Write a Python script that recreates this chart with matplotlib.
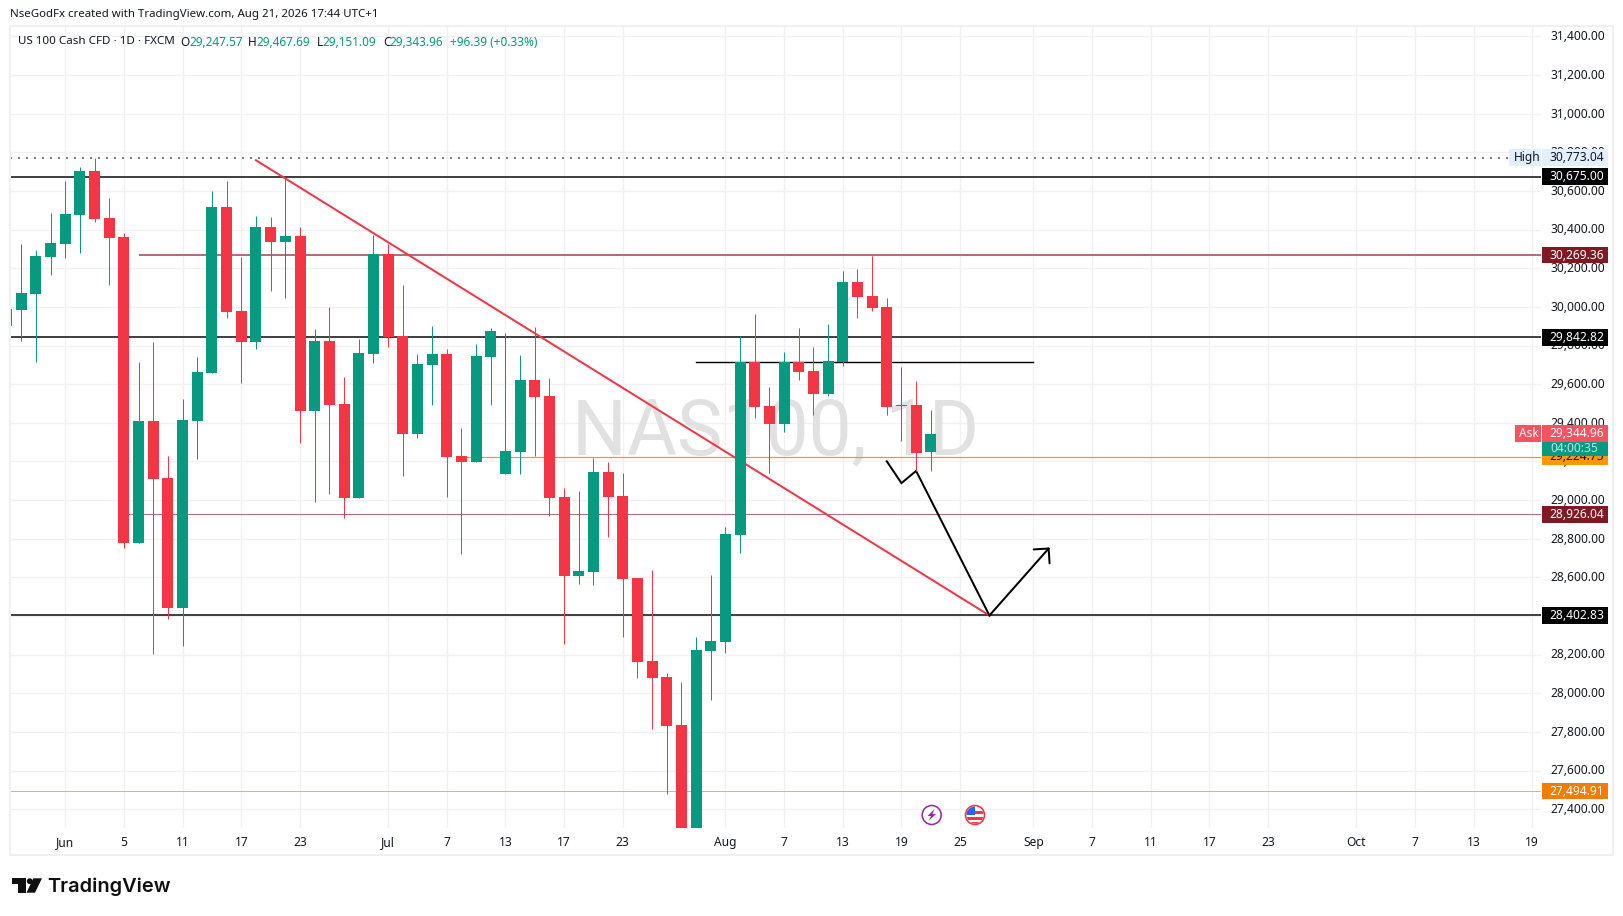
import matplotlib
matplotlib.use("Agg")
import matplotlib.pyplot as plt
import numpy as np
from matplotlib.patches import Circle, Polygon, Rectangle
from matplotlib.transforms import ScaledTranslation

plt.rcParams['font.family'] = ['Noto Sans', 'DejaVu Sans']

# daily bars, index 0 is the bar of 1 June
bar_index = np.arange(-4, 60)
opens = [29901, 29984, 30067, 30258, 30326, 30476, 30703, 30460, 30362, 28778, 29409, 29114, 28441, 29409, 29658, 30517,
         29979, 29818, 30414, 30336, 30367, 29461, 29823, 29497, 29011, 29756, 30274, 29849, 29342, 29699, 29756, 29228,
         29197, 29741, 29135, 29249, 29622, 29539, 29016, 28607, 28628, 29145, 29021, 28597, 28167, 28084, 27836, 27200,
         28219, 28265, 28819, 29715, 29487, 29394, 29715, 29668, 29549, 29715, 30129, 30056, 29999, 29488, 29492, 29247.57]
highs = [29989, 30325, 30294, 30486, 30652, 30724, 30773, 30564, 30382, 29715, 29818, 29228, 29523, 29741, 30600, 30652,
         30258, 30470, 30465, 30672, 30414, 29886, 29999, 29637, 29834, 30372, 30325, 30113, 29756, 29901, 29782, 29373,
         29808, 29891, 29865, 29751, 29896, 29632, 29063, 29047, 29218, 29197, 29140, 28597, 28638, 28105, 28058, 28291,
         28612, 28861, 29849, 29963, 29585, 29766, 29891, 29792, 29911, 30186, 30196, 30263, 30046, 29689, 29616, 29467.69]
lows = [29901, 29825, 29716, 30165, 30253, 30279, 30439, 30113, 28752, 28778, 28205, 28385, 28245, 29213, 29658, 29943,
        29606, 29782, 30082, 30046, 29296, 28990, 29032, 28907, 29011, 29710, 29792, 29125, 29321, 29492, 29016, 28723,
        29197, 29492, 29135, 29135, 29228, 28918, 28255, 28566, 28561, 28809, 28293, 28079, 27815, 27479, 27150, 27150,
        27965, 28209, 28726, 29425, 29140, 29352, 29622, 29440, 29539, 29694, 29942, 29979, 29440, 29306, 29151, 29151.09]
closes = [29989, 30072, 30263, 30331, 30481, 30703, 30455, 30357, 28778, 29409, 29109, 28441, 29415, 29663, 30517, 29974,
          29818, 30414, 30336, 30367, 29461, 29823, 29492, 29011, 29761, 30274, 29844, 29342, 29704, 29756, 29223, 29197,
          29746, 29875, 29254, 29622, 29534, 29011, 28607, 28633, 29145, 29016, 28592, 28162, 28079, 27831, 27200, 28224,
          28271, 28825, 29715, 29482, 29394, 29715, 29663, 29549, 29720, 30129, 30051, 29994, 29482, 29493, 29244, 29343.96]

price_ticks = [31400, 31200, 31000, 30800, 30600, 30400, 30200, 30000, 29800, 29600, 29400, 29200, 29000,
               28800, 28600, 28400, 28200, 28000, 27800, 27600, 27400]
date_pos = [0, 4, 8, 12, 16, 22, 26, 30, 34, 38, 45, 49, 53, 57, 61, 66, 70, 74, 78, 82, 88, 92, 96, 100]
date_labels = ['Jun', '5', '11', '17', '23', 'Jul', '7', '13', '17', '23', 'Aug', '7', '13', '19', '25',
               'Sep', '7', '11', '17', '23', 'Oct', '7', '13', '19']

# drawn lines: price, first bar
thick_levels = [30675.00, 29842.82, 28402.83]
red_top_level = 30269.36
red_low_level = 28926.04
orange_level = 29224.75
orange_low_level = 27494.91
high_price = 30773.04
ask_price = 29344.96
trend_x = [13, 63]
trend_y = [30759, 28402.83]
range_x = [43, 66]
range_y = [29713, 29713]
path_x = [56, 57, 58, 63]
path_y = [29201, 29088, 29151, 28402.83]
arrow_x = [63, 67.1]
arrow_y = [28402.83, 28755]

UP = '#089981'
DOWN = '#f23645'
TEXT = '#131722'
PX = 0.72  # points per pixel at dpi 100

W, H = 1623, 916
fig = plt.figure(figsize=(W / 100, H / 100), dpi=100, facecolor='white')
ax = fig.add_axes([10 / W, 1 - 828 / H, (1541 - 10) / W, (828 - 26) / H])
ax.set_xlim(-3.77, 100.6)
ax.set_ylim(27302.8, 31454)
for s in ax.spines.values():
    s.set_visible(False)
ax.set_axisbelow(True)
ax.grid(True, color='#f1f1f3', lw=1.4 * PX)
ax.yaxis.tick_right()
ax.set_yticks(price_ticks)
ax.set_yticklabels([f'{p:,.2f}' for p in price_ticks], fontsize=12 * PX, color=TEXT)
ax.set_xticks(date_pos)
ax.set_xticklabels(date_labels, fontsize=12 * PX, color=TEXT)
ax.tick_params(length=0)
ax.tick_params(axis='y', pad=9 * PX)
ax.tick_params(axis='x', pad=8 * PX)
nudge = ScaledTranslation(0, 1.2 / 100, fig.dpi_scale_trans)
for lab in ax.get_yticklabels():
    lab.set_transform(lab.get_transform() + nudge)

ax.text(0.5, (828 - 455) / 802, 'NAS100, 1D', transform=ax.transAxes, ha='center', va='baseline', fontsize=76.7 * PX,
        color='#e1e1e1', family='Roboto', zorder=0.6)

# horizontal levels sit under the candles
x_end = ax.get_xlim()[1]
for lvl in thick_levels:
    ax.hlines(lvl, -3.77, x_end, color='#434343', lw=2 * PX, zorder=1)
ax.hlines(red_top_level, 5, x_end, color='#b07078', lw=2 * PX, zorder=1)
ax.hlines(red_low_level, 4, x_end, color='#b86b72', lw=1 * PX, zorder=1)
ax.hlines(orange_level, 27, x_end, color='#ff9800', lw=1.2 * PX, zorder=1)
ax.hlines(orange_low_level, -3.77, x_end, color='#f2ad6b', lw=1 * PX, zorder=1)
ax.plot([-3.77, 98.36], [high_price, high_price], color='#808080', lw=2 * PX, ls=(0, (1, 3)),
        dash_capstyle='butt', zorder=1)

ax.plot(trend_x, trend_y, color=DOWN, lw=2 * PX, zorder=2)
ax.plot(range_x, range_y, color='black', lw=1.4 * PX, zorder=2)
ax.plot(path_x, path_y, color='black', lw=2 * PX, zorder=2, solid_joinstyle='miter')
ax.annotate('', xy=(arrow_x[1], arrow_y[1]), xytext=(arrow_x[0], arrow_y[0]), zorder=2,
            arrowprops=dict(arrowstyle='->,head_length=0.76,head_width=0.76', mutation_scale=10, lw=2 * PX,
                            color='black', shrinkA=0, shrinkB=0))

o = np.array(opens)
c = np.array(closes)
colors = [UP if b >= a else DOWN for a, b in zip(opens, closes)]
ax.vlines(bar_index, lows, highs, colors=colors, lw=1 * PX, zorder=3)
ax.bar(bar_index, np.abs(c - o), bottom=np.minimum(o, c), width=0.75, color=colors, linewidth=0, zorder=3)

# overlay in pixel coordinates for the frame, tags and header
ov = fig.add_axes([0, 0, 1, 1])
ov.set_xlim(0, W)
ov.set_ylim(H, 0)
ov.axis('off')


def py(price):
    return H - ax.transData.transform((0, price))[1]


tag_z = [10]


def box(x, y0, w, h, bg, text=None, tx=None, ty=None, fg='white', weight='normal', size=12):
    # patches and their text are stacked in call order, so later tags hide earlier ones
    tag_z[0] += 1
    ov.add_patch(Rectangle((x, y0), w, h, fc=bg, ec='none', zorder=tag_z[0]))
    if text:
        ov.text(tx, ty, text, color=fg, fontsize=size * PX, ha='left', va='center', weight=weight, zorder=tag_z[0])


def price_tag(price, text, bg, fg='white', weight='bold', size=12):
    y = py(price)
    box(1542, y - 8.3, 66, 16.6, bg, text, 1549, y + 0.3, fg, weight, size)


FRAME = '#f0f0f2'
ov.plot([10, 10, 1612.5, 1612.5, 10, 10], [26, 855, 855, 26, 26, 855], color=FRAME, lw=2 * PX)

price_tag(high_price, '30,773.04', '#e3effd', fg=TEXT, weight='normal')
y = py(high_price)
box(1509, y - 8.3, 32, 16.6, '#e3effd', 'High', 1514, y + 0.3, TEXT)
price_tag(30675.00, '30,675.00', 'black')
price_tag(red_top_level, '30,269.36', '#801922')
price_tag(29842.82, '29,842.82', 'black')
price_tag(orange_level, '29,224.75', '#ff9800', fg=TEXT, weight='normal')
y = py(ask_price)
box(1542, y + 8, 66, 14.2, UP, '04:00:35', 1550, y + 15, '#b8e6dd')
price_tag(ask_price, '29,344.96', '#f7525f')
box(1515, y - 8.3, 26, 16.6, '#f7525f', 'Ask', 1519, y + 0.3, 'white', 'bold', 12)
price_tag(red_low_level, '28,926.04', '#801922')
price_tag(28402.83, '28,402.83', 'black')
price_tag(orange_low_level, '27,494.91', '#f57c00')

# header
ov.text(10, 15, 'NseGodFx created with TradingView.com, Aug 21, 2026 17:44 UTC+1', color=TEXT,
        fontsize=11.45 * PX, va='center')
ov.text(18, 42, 'US 100 Cash CFD · 1D · FXCM', color=TEXT, fontsize=11.6 * PX, va='center')
for x, t in [(180, 'O'), (248, 'H'), (317, 'L'), (383, 'C')]:
    ov.text(x, 42, t, color=TEXT, fontsize=11.8 * PX, va='center')
for x, t in [(189, '29,247.57'), (256, '29,467.69'), (322.5, '29,151.09'), (389, '29,343.96'),
             (450, '+96.39 (+0.33%)')]:
    ov.text(x, 42, t, color=UP, fontsize=11.8 * PX, va='center')

# event icons
ov.add_patch(Circle((931.7, 815), 9.5, fc='white', ec='#9c27b0', lw=1.6 * PX, zorder=4))
ov.add_patch(Polygon([(934.5, 809), (927.5, 816), (931, 816), (928.5, 821), (936, 814), (932.5, 814)],
                     fc='#9c27b0', ec='none', zorder=5))
ring = Circle((975, 815), 9.5, fc='white', ec=DOWN, lw=1.6 * PX, zorder=4)
ov.add_patch(ring)
inner = Circle((975, 815), 8.5, transform=ov.transData)
for yy in [(811, 3), (816.5, 3), (822, 2.5)]:
    r = Rectangle((960, yy[0]), 30, yy[1], fc=DOWN, ec='none', zorder=5)
    ov.add_patch(r)
    r.set_clip_path(inner)
cant = Rectangle((965, 805), 10, 9.5, fc='#2962ff', ec='none', zorder=6)
ov.add_patch(cant)
cant.set_clip_path(inner)

# logo
ov.add_patch(Polygon([(12, 878.3), (26, 878.3), (26, 892.7), (18.3, 892.7), (18.3, 884), (12, 884)], fc='#0f0f0f', ec='none'))
ov.add_patch(Circle((29.7, 881.2), 2.9, fc='#0f0f0f', ec='none'))
ov.add_patch(Polygon([(33.3, 878.3), (42, 878.3), (35, 892.7), (26.5, 892.7)], fc='#0f0f0f', ec='none'))
ov.text(47.5, 887, 'TradingView', color='#0f0f0f', fontsize=20 * PX, family='Inter', weight='semibold', va='center')

fig.savefig('out.png', dpi=100, facecolor='white')
